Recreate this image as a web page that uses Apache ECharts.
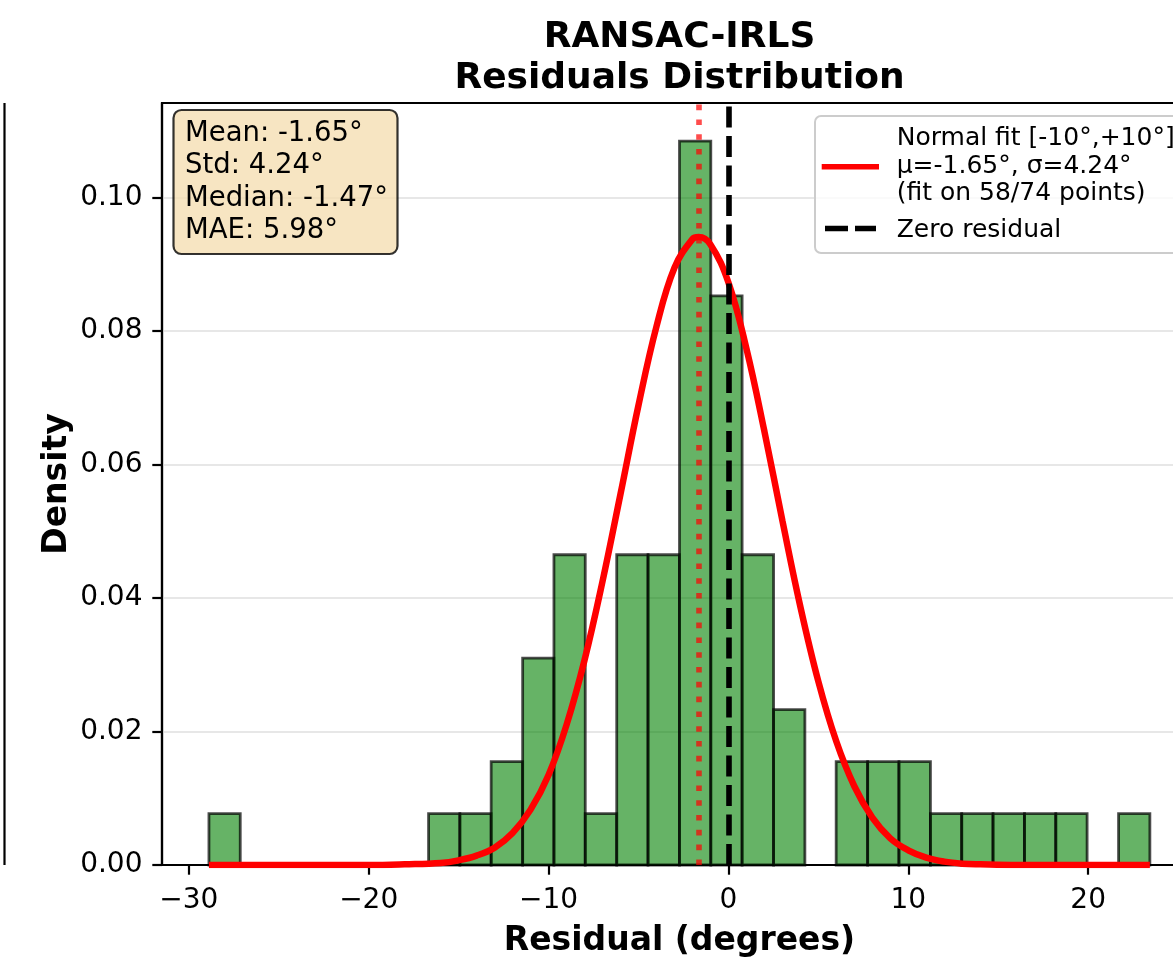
<!DOCTYPE html>
<html>
<head>
<meta charset="utf-8">
<title>RANSAC-IRLS Residuals Distribution</title>
<script src="https://cdn.jsdelivr.net/npm/echarts@6.0.0/dist/echarts.min.js"></script>
<style>
html, body { margin: 0; padding: 0; background: #fff; }
#main { width: 1173px; height: 960px; }
</style>
</head>
<body>
<div id="main"></div>
<script>
// histogram bins (degrees) and density per bin
var binEdges = [-28.88, -27.14, -25.39, -23.65, -21.91, -20.16, -18.42, -16.67, -14.93, -13.19,
  -11.44, -9.70, -7.96, -6.21, -4.47, -2.72, -0.98, 0.76, 2.51, 4.25,
  5.99, 7.74, 9.48, 11.23, 12.97, 14.71, 16.46, 18.20, 19.94, 21.69, 23.43];
var density = [0.0077, 0, 0, 0, 0, 0, 0, 0.0077, 0.0077, 0.0155,
  0.0310, 0.0465, 0.0077, 0.0465, 0.0465, 0.1085, 0.0853, 0.0465, 0.0233, 0,
  0.0155, 0.0155, 0.0155, 0.0077, 0.0077, 0.0077, 0.0077, 0.0077, 0, 0.0077];

// red fitted curve
var curveX = [-28.88, -24, -20, -18, -16, -15, -14, -13, -12, -11, -10, -9, -8, -7, -6, -5, -4, -3, -2, -1.65,
  -1, 0, 1, 2, 3, 4, 5, 6, 7, 8, 9, 10, 11, 12, 13, 14, 16, 20, 23.43];
var curveY = [0, 0, 0, 0.0001, 0.0003, 0.0007, 0.0014, 0.0026, 0.0048, 0.0083, 0.0135, 0.0210, 0.0307, 0.0425, 0.0556, 0.0689, 0.0807, 0.0895, 0.0938, 0.0941,
  0.0930, 0.0873, 0.0774, 0.0650, 0.0516, 0.0387, 0.0275, 0.0185, 0.0118, 0.0071, 0.0040, 0.0022, 0.0011, 0.0005, 0.0002, 0.0001, 0, 0, 0];

var xTicks = [-30, -20, -10, 0, 10, 20];
var yTicks = [0, 0.02, 0.04, 0.06, 0.08, 0.10];
var meanLine = -1.65;
var zeroLine = 0;

var titleLines = ['RANSAC-IRLS', 'Residuals Distribution'];
var statsLines = ['Mean: -1.65°', 'Std: 4.24°', 'Median: -1.47°', 'MAE: 5.98°'];
var fitLabel = ['Normal fit [-10°,+10°]', 'μ=-1.65°, σ=4.24°', '(fit on 58/74 points)'];
var zeroLabel = 'Zero residual';

var FONT = 'DejaVu Sans';

var histData = [];
for (var i = 0; i < density.length; i++) {
  histData.push([binEdges[i], binEdges[i + 1], density[i]]);
}
var curveData = curveX.map(function (x, i) { return [x, curveY[i]]; });

function minusFmt(v) {
  return v < 0 ? '\u2212' + Math.abs(v) : String(v);
}

var chart = echarts.init(document.getElementById('main'));

var option = {
  animation: false,
  backgroundColor: '#fff',
  grid: {
    left: 162, top: 103, width: 1035, height: 762,
    show: true, borderColor: '#000', borderWidth: 2.2,
    containLabel: false, outerBoundsMode: 'none'
  },
  xAxis: {
    type: 'value', min: -31.49, max: 26.05,
    axisLine: { show: true, onZero: false, lineStyle: { color: '#000', width: 2.2 } },
    axisTick: { show: true, customValues: xTicks, length: 9.7, lineStyle: { color: '#000', width: 2.2 } },
    axisLabel: { customValues: xTicks, formatter: minusFmt, margin: 22, color: '#000', fontSize: 28, fontFamily: FONT },
    splitLine: { show: false }
  },
  yAxis: {
    type: 'value', min: 0, max: 0.1142, interval: 0.02,
    axisLine: { show: true, onZero: false, lineStyle: { color: '#000', width: 2.2 } },
    axisTick: { show: true, customValues: yTicks, length: 9.7, lineStyle: { color: '#000', width: 2.2 } },
    axisLabel: {
      customValues: yTicks, margin: 19.5, color: '#000', fontSize: 28, fontFamily: FONT,
      formatter: function (v) { return v.toFixed(2); }
    },
    splitLine: { show: true, lineStyle: { color: '#e7e7e7', width: 2.2 } }
  },
  series: [
    {
      type: 'custom',
      name: 'Residuals',
      data: histData,
      encode: { x: [0, 1], y: 2 },
      z: 2,
      renderItem: function (params, api) {
        var h = api.value(2);
        if (!h) return null;
        var p0 = api.coord([api.value(0), h]);
        var p1 = api.coord([api.value(1), 0]);
        return {
          type: 'rect',
          shape: { x: p0[0], y: p0[1], width: p1[0] - p0[0], height: p1[1] - p0[1] },
          style: { fill: 'rgba(0,128,0,0.6)', stroke: 'rgba(0,0,0,0.7)', lineWidth: 2.8 }
        };
      }
    },
    {
      type: 'line',
      name: 'Normal fit',
      data: curveData,
      showSymbol: false,
      smooth: 0.4,
      z: 3,
      lineStyle: { color: '#ff0000', width: 6.5 },
      markLine: {
        silent: true,
        symbol: ['none', 'none'],
        label: { show: false },
        data: [
          { xAxis: meanLine, lineStyle: { color: 'rgba(255,0,0,0.7)', width: 5.6, type: [5.6, 9.2], cap: 'butt' } },
          { xAxis: zeroLine, lineStyle: { color: '#000', width: 5.6, type: [21, 8.5], cap: 'butt' } }
        ]
      }
    }
  ],
  graphic: [
    // title
    { type: 'text', x: 679.5, y: 37.5, z: 100, style: { text: titleLines[0], align: 'center', verticalAlign: 'middle', fontSize: 36, fontWeight: 'bold', fontFamily: FONT, fill: '#000' } },
    { type: 'text', x: 679.5, y: 78.5, z: 100, style: { text: titleLines[1], align: 'center', verticalAlign: 'middle', fontSize: 36, fontWeight: 'bold', fontFamily: FONT, fill: '#000' } },
    // axis titles
    { type: 'text', x: 679.5, y: 941, z: 100, style: { text: 'Residual (degrees)', align: 'center', verticalAlign: 'middle', fontSize: 33, fontWeight: 'bold', fontFamily: FONT, fill: '#000' } },
    { type: 'text', x: 57, y: 484, rotation: Math.PI / 2, z: 100, style: { text: 'Density', align: 'center', verticalAlign: 'middle', fontSize: 33, fontWeight: 'bold', fontFamily: FONT, fill: '#000' } },
    // stats box
    { type: 'rect', z: 100, shape: { x: 173.5, y: 110, width: 224, height: 144, r: 8 }, style: { fill: 'rgba(245,222,179,0.8)', stroke: 'rgba(0,0,0,0.8)', lineWidth: 2.2 } },
    { type: 'text', x: 185, y: 117.5, z: 101, style: { text: statsLines.join('\n'), verticalAlign: 'top', lineHeight: 32.4, fontSize: 27.5, fontFamily: FONT, fill: '#000' } },
    // legend
    { type: 'rect', z: 100, shape: { x: 815, y: 116, width: 370, height: 137, r: 6 }, style: { fill: 'rgba(255,255,255,0.8)', stroke: '#cccccc', lineWidth: 2 } },
    { type: 'line', z: 101, shape: { x1: 824.5, y1: 166.7, x2: 876.2, y2: 166.7 }, style: { stroke: '#ff0000', lineWidth: 5.6, lineCap: 'square' } },
    { type: 'text', x: 896.7, y: 125, z: 101, style: { text: fitLabel.join('\n'), verticalAlign: 'top', lineHeight: 27.5, fontSize: 25, fontFamily: FONT, fill: '#000' } },
    { type: 'line', z: 101, shape: { x1: 825, y1: 228.5, x2: 876, y2: 228.5 }, style: { stroke: '#000', lineWidth: 5.6, lineDash: [23, 7] } },
    { type: 'text', x: 896.7, y: 230, z: 101, style: { text: zeroLabel, verticalAlign: 'middle', fontSize: 25, fontFamily: FONT, fill: '#000' } },
    // edge of the neighbouring panel
    { type: 'line', z: 100, shape: { x1: 4.5, y1: 103, x2: 4.5, y2: 865 }, style: { stroke: '#000', lineWidth: 2.2 } }
  ]
};

chart.setOption(option);
</script>
</body>
</html>
